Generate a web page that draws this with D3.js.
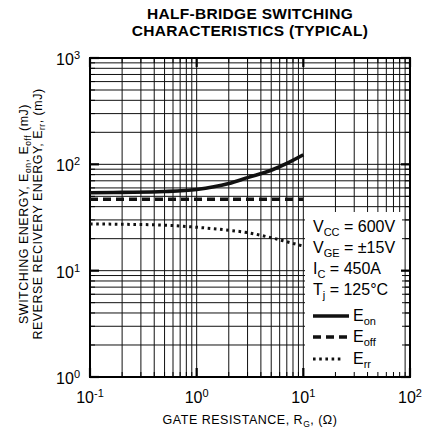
<!DOCTYPE html>
<html><head><meta charset="utf-8">
<script src="https://cdn.jsdelivr.net/npm/d3@7"></script>
<style>body{margin:0;background:#fff}svg{display:block}</style>
</head><body>
<svg id="c" width="432" height="433"></svg>
<script>
// ---- data ----
const resistance = [0.1, 0.2, 0.5, 1, 2, 3, 5, 7, 10];
const eOn  = [54, 54.5, 55.5, 58, 66, 75, 88, 102, 123];
const eOff = [47, 47, 47, 47, 47, 47, 47, 47, 47];
const eRr  = [27.5, 27.3, 26.8, 25.6, 24, 22.8, 20.4, 18.7, 17];
const xTickExps = [-1, 0, 1, 2];
const yTickExps = [0, 1, 2, 3];
const titleLines = ["HALF-BRIDGE SWITCHING", "CHARACTERISTICS (TYPICAL)"];
const conditions = [["V","CC"," = 600V"],["V","GE"," = \u00b115V"],["I","C"," = 450A"],["T","j"," = 125\u00b0C"]];
const seriesNames = [["E","on"],["E","off"],["E","rr"]];

const FONT = "'Liberation Sans', Arial, Helvetica, sans-serif";
const svg = d3.select("#c").attr("font-family", FONT);
const L = 90, R = 410, T = 58, B = 377;
const x = d3.scaleLog().domain([0.1, 100]).range([L, R]);
const y = d3.scaleLog().domain([1, 1000]).range([B, T]);

// title
svg.append("text").attr("x", 250).attr("y", 19).attr("text-anchor","middle")
  .attr("font-size", 15.5).attr("font-weight","bold").attr("letter-spacing", 0.3)
  .selectAll("tspan").data(titleLines).join("tspan")
  .attr("x", 250).attr("dy", (d,i)=> i===0?0:16.5).text(d=>d);

// grid
const gridVals = (lo, hi) => { const v=[]; for (let e=lo; e<hi; e++) for (let m=1;m<=9;m++) v.push(m*Math.pow(10,e)); v.push(Math.pow(10,hi)); return v; };
const xg = gridVals(-1, 2), yg = gridVals(0, 3);
const g = svg.append("g").attr("stroke","#111").attr("stroke-width",1);
g.selectAll(".vx").data(xg).join("line").attr("x1",d=>x(d)).attr("x2",d=>x(d)).attr("y1",T).attr("y2",B);
g.selectAll(".hy").data(yg).join("line").attr("y1",d=>y(d)).attr("y2",d=>y(d)).attr("x1",L).attr("x2",R);

// legend background
svg.append("rect").attr("x", 305).attr("y", 212).attr("width", 97).attr("height", B-212).attr("fill","#fff");

// ticks (inward)
const tk = svg.append("g").attr("stroke","#000");
xg.forEach(v => {
  const maj = Math.abs(Math.log10(v) - Math.round(Math.log10(v))) < 1e-9;
  const len = maj ? 9 : 5, w = maj ? 2.2 : 1;
  tk.append("line").attr("x1",x(v)).attr("x2",x(v)).attr("y1",B).attr("y2",B-len).attr("stroke-width",w);
  tk.append("line").attr("x1",x(v)).attr("x2",x(v)).attr("y1",T).attr("y2",T+len).attr("stroke-width",w);
});
yg.forEach(v => {
  const maj = Math.abs(Math.log10(v) - Math.round(Math.log10(v))) < 1e-9;
  const len = maj ? 9 : 5, w = maj ? 2.2 : 1;
  tk.append("line").attr("y1",y(v)).attr("y2",y(v)).attr("x1",L).attr("x2",L+len).attr("stroke-width",w);
  tk.append("line").attr("y1",y(v)).attr("y2",y(v)).attr("x1",R).attr("x2",R-len).attr("stroke-width",w);
});

// frame
svg.append("rect").attr("x",L).attr("y",T).attr("width",R-L).attr("height",B-T)
  .attr("fill","none").attr("stroke","#000").attr("stroke-width",2);

// curves
const line = d3.line().x(d=>x(d[0])).y(d=>y(d[1])).curve(d3.curveMonotoneX);
const pts = arr => resistance.map((r,i)=>[r, arr[i]]);
const styles = [
  {data:eOn, dash:null, w:3.6, cap:"butt"},
  {data:eOff, dash:"8,5", w:3.4, cap:"butt"},
  {data:eRr, dash:"2.6,3.6", w:3.0, cap:"butt"}
];
styles.forEach(s => {
  svg.append("path").attr("d", line(pts(s.data))).attr("fill","none").attr("stroke","#111")
    .attr("stroke-width", s.w).attr("stroke-dasharray", s.dash).attr("stroke-linecap", s.cap);
});

// tick labels
function sup(sel, base, exp, supSize) {
  sel.append("tspan").text(base);
  sel.append("tspan").attr("dy", -6).attr("font-size", supSize).text(exp);
}
yTickExps.forEach(e => {
  const t = svg.append("text").attr("x", 80).attr("y", y(Math.pow(10,e)) + 7)
    .attr("text-anchor","end").attr("font-size", 16);
  sup(t, "10", String(e), 11);
});
xTickExps.forEach(e => {
  const t = svg.append("text").attr("x", x(Math.pow(10,e))).attr("y", 403)
    .attr("text-anchor","middle").attr("font-size", 16);
  sup(t, "10", String(e), 11);
});

// axis titles
const xt = svg.append("text").attr("x", 250).attr("y", 424).attr("text-anchor","middle")
  .attr("font-size", 12.5).attr("letter-spacing", 0.5);
xt.append("tspan").text("GATE RESISTANCE, R");
xt.append("tspan").attr("dy", 3).attr("font-size", 8.5).text("G");
xt.append("tspan").attr("dy", -3).text(", (\u03a9)");

function richLine(sel, parts) {
  parts.forEach(([txt, sub], i) => {
    const prevSub = i>0 && parts[i-1][1];
    const dy = sub ? 3 : (prevSub ? -3 : 0);
    sel.append("tspan").attr("dy", dy).attr("font-size", sub ? 8.5 : null).text(txt);
  });
}
const yl1 = svg.append("text").attr("transform","translate(28,214) rotate(-90)").attr("text-anchor","middle")
  .attr("font-size", 12.5).attr("letter-spacing", 0.5);
richLine(yl1, [["SWITCHING ENERGY, E",0],["on",1],[", E",0],["off",1],[" (mJ)",0]]);
const yl2 = svg.append("text").attr("transform","translate(42,214) rotate(-90)").attr("text-anchor","middle")
  .attr("font-size", 12.5).attr("letter-spacing", 0.5);
richLine(yl2, [["REVERSE RECIVERY ENERGY, E",0],["rr",1],[", (mJ)",0]]);

// legend conditions
const condY = [232, 253, 274, 295];
conditions.forEach((c, i) => {
  const t = svg.append("text").attr("x", 313).attr("y", condY[i]).attr("font-size", 16);
  t.append("tspan").text(c[0]);
  t.append("tspan").attr("dy", 4).attr("font-size", 11).text(c[1]);
  t.append("tspan").attr("dy", -4).text(c[2]);
});
// legend series
const legY = [316, 337, 359];
styles.forEach((s, i) => {
  svg.append("line").attr("x1", 313).attr("x2", i===2?344:349).attr("y1", legY[i]).attr("y2", legY[i])
    .attr("stroke","#111").attr("stroke-width", s.w).attr("stroke-dasharray", s.dash);
  const t = svg.append("text").attr("x", 353).attr("y", legY[i] + 5).attr("font-size", 16);
  t.append("tspan").text(seriesNames[i][0]);
  t.append("tspan").attr("dy", 4).attr("font-size", 11).text(seriesNames[i][1]);
});
</script>
</body></html>
